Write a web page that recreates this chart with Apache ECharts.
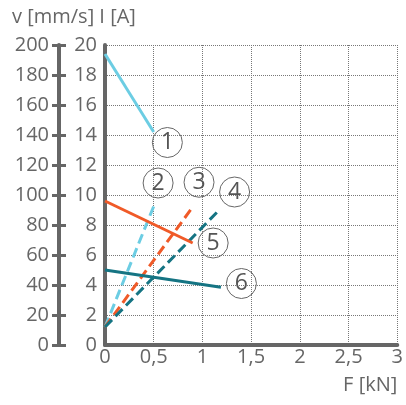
<!DOCTYPE html>
<html><head><meta charset="utf-8">
<script src="https://cdn.jsdelivr.net/npm/echarts@6/dist/echarts.min.js"></script>
<style>html,body{margin:0;padding:0;background:#fff}#c{width:406px;height:405px}</style>
</head><body><div id="c"></div>
<script>
// Data
const xTicks = [0, 0.5, 1, 1.5, 2, 2.5, 3];
const curve1 = [[0, 19.4], [0.5, 14.2]];          // solid light blue
const curve2 = [[0, 1.2], [0.5, 9.25]];            // dashed light blue
const curve3 = [[0, 1.2], [0.9, 9.2]];             // dashed orange
const curve4 = [[0, 1.2], [1.18, 9.05]];           // dashed teal
const curve5 = [[0, 9.6], [0.9, 6.8]];             // solid orange
const curve6 = [[0, 5.0], [1.19, 3.85]];           // solid teal
const markerNames = ['1', '2', '3', '4', '5', '6'];
const markerX = [0.64, 0.545, 0.965, 1.33, 1.11, 1.40];
const markerY = [13.5, 10.8, 10.85, 10.2, 6.8, 4.1];

const BLUE = '#6ccde3', ORANGE = '#f05a28', TEAL = '#157483', GREY = '#666';
const FONT = 'Open Sans';

function lineSeries(data, color, dashed) {
  return {
    type: 'line', data: data, symbol: 'none', xAxisIndex: 0, yAxisIndex: 0,
    lineStyle: { color: color, width: 3, type: dashed ? [10, 5] : 'solid' },
    silent: true, animation: false, z: 3
  };
}

const chart = echarts.init(document.getElementById('c'));
chart.setOption({
  animation: false,
  textStyle: { fontFamily: FONT },
  grid: { left: 105, right: 8, top: 45, bottom: 60, containLabel: false },
  graphic: [{
    type: 'text', left: 12, top: 7,
    style: { text: 'v [mm/s] I [A]', fontSize: 20, fontFamily: FONT, fill: GREY }
  }],
  xAxis: {
    type: 'value', min: 0, max: 3, interval: 0.5,
    name: 'F [kN]', nameLocation: 'end', nameGap: 0,
    nameTextStyle: { fontSize: 20, color: GREY, align: 'right', verticalAlign: 'top', padding: [30, 0, 0, 0], fontFamily: FONT },
    axisLine: { lineStyle: { color: GREY, width: 4 } },
    axisTick: { show: false },
    splitLine: { show: true, lineStyle: { type: 'dotted', color: '#777', width: 1 } },
    axisLabel: { fontSize: 20, color: GREY, margin: 2, fontFamily: FONT,
      formatter: v => String(v).replace('.', ',') }
  },
  yAxis: [{
    type: 'value', position: 'left', min: 0, max: 20, interval: 2,
    axisLine: { show: true, lineStyle: { color: GREY, width: 4 } },
    axisTick: { show: false },
    splitLine: { show: true, lineStyle: { type: 'dotted', color: '#777', width: 1 } },
    axisLabel: { fontSize: 20, color: GREY, margin: 8, fontFamily: FONT }
  }, {
    type: 'value', position: 'left', offset: 46, min: 0, max: 200, interval: 20,
    axisLine: { show: true, lineStyle: { color: GREY, width: 4 } },
    axisTick: { show: true, length: 7, lineStyle: { color: GREY, width: 3 } },
    splitLine: { show: false },
    axisLabel: { fontSize: 20, color: GREY, margin: 10, fontFamily: FONT }
  }, {
    type: 'value', position: 'left', offset: 46, min: 0, max: 200, interval: 20,
    axisLine: { show: false },
    axisTick: { show: true, inside: true, length: 7, lineStyle: { color: GREY, width: 3 } },
    splitLine: { show: false },
    axisLabel: { show: false }
  }],
  series: [
    lineSeries(curve1, BLUE, false),
    lineSeries(curve2, BLUE, true),
    lineSeries(curve3, ORANGE, true),
    lineSeries(curve4, TEAL, true),
    lineSeries(curve5, ORANGE, false),
    lineSeries(curve6, TEAL, false),
    {
      type: 'scatter', xAxisIndex: 0, yAxisIndex: 0, z: 5, silent: true,
      data: markerNames.map((n, i) => [markerX[i], markerY[i], n]),
      symbol: 'circle', symbolSize: 30,
      itemStyle: { color: 'rgba(255,255,255,0)', borderColor: '#666', borderWidth: 1, opacity: 1 },
      label: { show: true, position: 'inside', formatter: p => p.value[2],
        fontSize: 23, color: '#555', fontFamily: FONT, opacity: 1 }
    }
  ]
});
</script>
</body></html>
